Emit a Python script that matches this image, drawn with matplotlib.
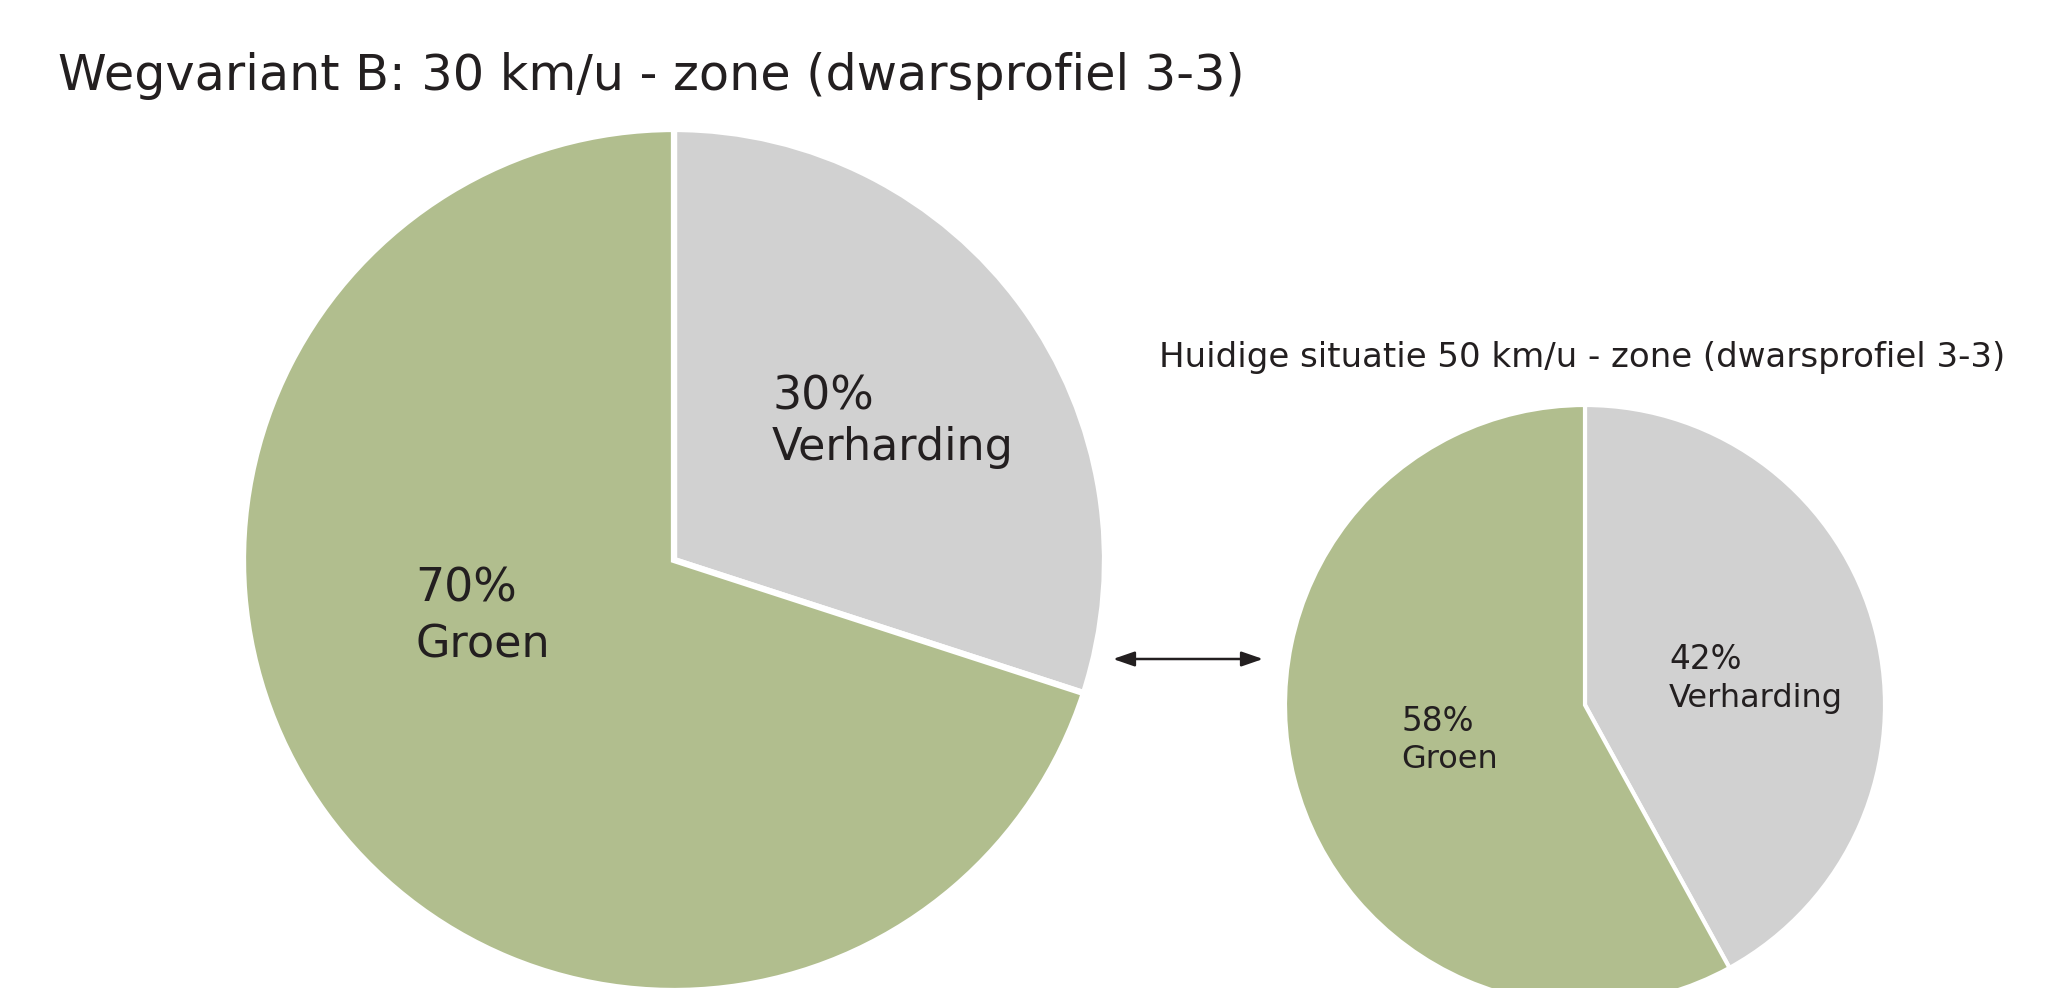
import matplotlib.pyplot as plt

# data
categories = ["Verharding", "Groen"]
variant_b = [30, 70]
huidig = [42, 58]
title_main = "Wegvariant B: 30 km/u - zone (dwarsprofiel 3-3)"
title_small = "Huidige situatie 50 km/u - zone (dwarsprofiel 3-3)"

colors = ["#D1D1D1", "#B1BE8E"]
text_color = "#231F20"

W, H = 2052, 988

fig = plt.figure(figsize=(W / 100, H / 100), dpi=100)
ax = fig.add_axes([0, 0, 1, 1])


def y(px):
    # pixel from top -> data coordinate
    return H - px


# big pie (Wegvariant B)
ax.pie(variant_b, colors=colors, startangle=90, counterclock=False,
       center=(674, y(560)), radius=431,
       wedgeprops=dict(edgecolor="white", linewidth=4.5))

# small pie (huidige situatie)
ax.pie(huidig, colors=colors, startangle=90, counterclock=False,
       center=(1585, y(705)), radius=300,
       wedgeprops=dict(edgecolor="white", linewidth=3))

ax.set_xlim(0, W)
ax.set_ylim(0, H)
ax.set_aspect("equal")
ax.axis("off")

# titles
ax.text(58, y(90), title_main, fontsize=35.5, color=text_color, va="baseline")
ax.text(1159, y(367), title_small, fontsize=24.5, color=text_color, va="baseline")

# labels big pie
big_pos = [(772, 409, 460), (415, 602, 658)]
for name, val, (x0, b1, b2) in zip(categories, variant_b, big_pos):
    ax.text(x0, y(b1), f"{val}%", fontsize=33, color=text_color, va="baseline")
    ax.text(x0, y(b2), name, fontsize=32, color=text_color, va="baseline")

# labels small pie
small_pos = [(1669, 669, 707), (1401, 731, 768)]
for name, val, (x0, b1, b2) in zip(categories, huidig, small_pos):
    ax.text(x0, y(b1), f"{val}%", fontsize=23.5, color=text_color, va="baseline")
    ax.text(x0, y(b2), name, fontsize=23, color=text_color, va="baseline")

# double arrow between the two pies
ax.annotate("", xy=(1263, y(659)), xytext=(1113, y(659)),
            arrowprops=dict(arrowstyle="<|-|>,head_length=1.3,head_width=0.45",
                            mutation_scale=10, lw=1.8, color=text_color,
                            shrinkA=0, shrinkB=0))

fig.savefig("out.png", dpi=100, facecolor="white")
